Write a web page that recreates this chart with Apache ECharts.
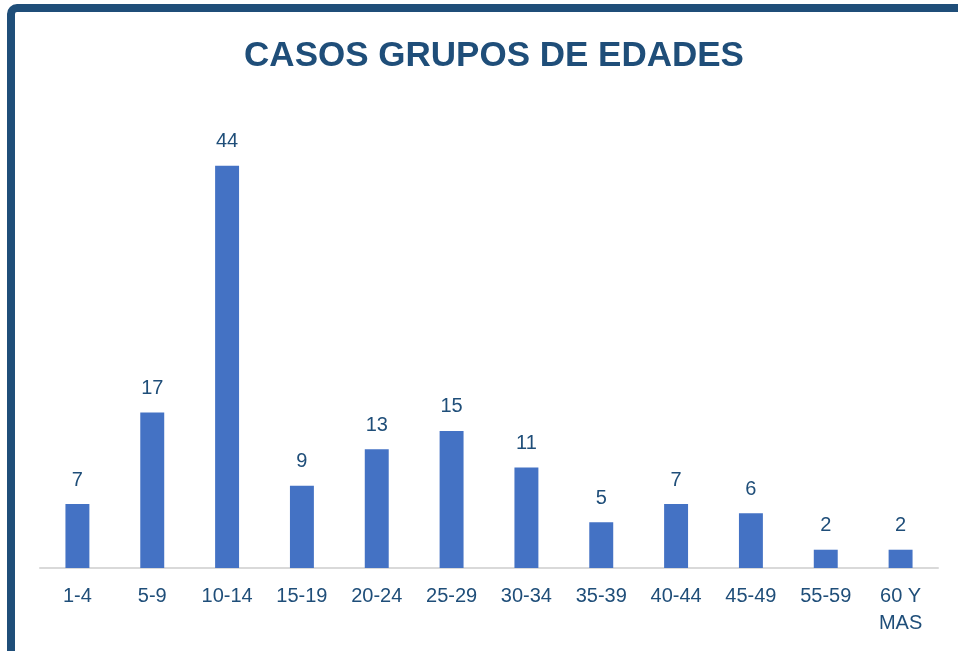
<!DOCTYPE html>
<html><head><meta charset="utf-8">
<script src="https://cdn.jsdelivr.net/npm/echarts@6/dist/echarts.min.js"></script>
<style>html,body{margin:0;padding:0;background:#fff}#c{width:958px;height:651px}</style>
</head><body><div id="c"></div>
<script>
const categories = ['1-4','5-9','10-14','15-19','20-24','25-29','30-34','35-39','40-44','45-49','55-59','60 Y\nMAS'];
const casos = [7,17,44,9,13,15,11,5,7,6,2,2];
const titleText = 'CASOS GRUPOS DE EDADES';
const FONT = '"Liberation Sans Narrow", "Arial Narrow", "Liberation Sans", Arial, sans-serif';
const DARK = '#1F4E79';
const chart = echarts.init(document.getElementById('c'));
chart.setOption({
  animation: false,
  backgroundColor: '#fff',
  title: {
    text: titleText, left: 489, top: 34, textAlign: 'center',
    textStyle: {color: DARK, fontFamily: FONT, fontWeight: 'bold', fontSize: 35}
  },
  graphic: [{
    type: 'rect', z: 100,
    shape: {x: 11, y: 8, width: 1000, height: 700, r: 6},
    style: {fill: 'none', stroke: DARK, lineWidth: 8}
  }],
  grid: {left: 40, right: 20, top: 111, bottom: 83},
  xAxis: {
    type: 'category', data: categories,
    axisTick: {show: false},
    axisLine: {lineStyle: {color: '#D9D9D9', width: 2}},
    axisLabel: {color: DARK, fontFamily: FONT, fontSize: 20, lineHeight: 27, margin: 15, interval: 0}
  },
  yAxis: {type: 'value', min: 0, max: 50, show: false, splitLine: {show: false}},
  series: [{
    type: 'bar', data: casos, barWidth: '32%',
    itemStyle: {color: '#4472C4'},
    label: {show: true, position: 'top', distance: 14, color: DARK, fontFamily: FONT, fontSize: 20}
  }]
});
</script></body></html>
